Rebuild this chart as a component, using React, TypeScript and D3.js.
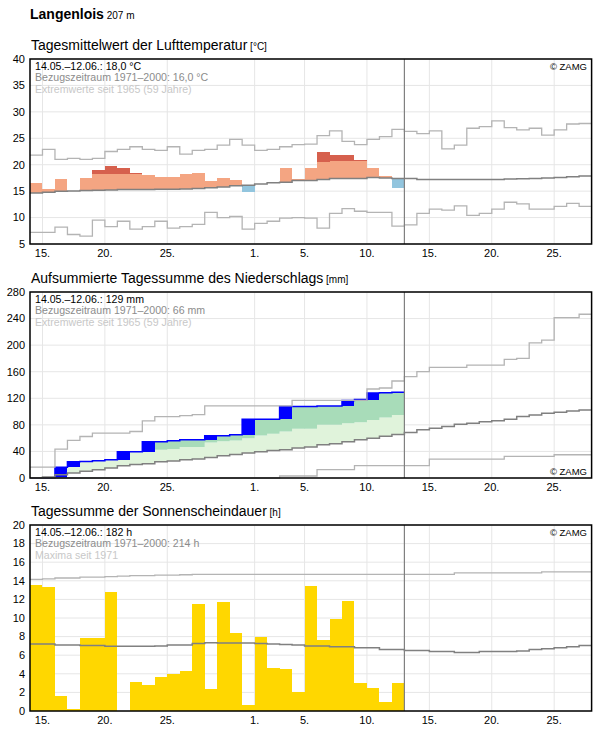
import React from 'react';
import * as d3 from 'd3';

const FONT = '"Liberation Sans", Arial, sans-serif';

// zeitraum
const startDay = new Date(Date.UTC(2023, 4, 14));
const endDay = new Date(Date.UTC(2023, 5, 28));
const todayLine = new Date(Date.UTC(2023, 5, 13));
const tickDays = [[4, 15], [4, 20], [4, 25], [5, 1], [5, 5], [5, 10], [5, 15], [5, 20], [5, 25]];

// Lufttemperatur (14.05. - 12.06.)
const tempObs = [16.6, 15.4, 17.3, 15.1, 17.5, 19.0, 19.8, 19.4, 18.4, 18.1, 17.7, 17.7, 18.3, 18.5, 16.9,
  17.4, 17.1, 14.9, 16.35, 16.7, 19.4, 17.3, 19.4, 22.4, 21.8, 21.8, 20.9, 19.4, 17.9, 15.65];
const tempHigh = [18.3, 18.3, 18.3, 18.3, 18.3, 18.3, 18.3, 18.3, 18.3, 18.4, 18.5, 18.6, 18.7, 18.8, 18.9,
  19.0, 19.1, 19.2, 19.4, 19.5, 19.6, 19.8, 20.0, 20.5, 20.7, 20.7, 20.7, 20.9, 21.0, 21.0];
const tempMean = [14.65, 14.8, 15.0, 15.05, 15.1, 15.15, 15.2, 15.3, 15.3, 15.3, 15.35, 15.35, 15.4, 15.5, 15.65,
  15.8, 16.0, 16.1, 16.35, 16.6, 16.7, 17.0, 17.0, 17.2, 17.4, 17.4, 17.4, 17.6, 17.5, 17.4,
  17.4, 17.2, 17.2, 17.2, 17.2, 17.2, 17.2, 17.2, 17.3, 17.35, 17.4, 17.5, 17.6, 17.7, 17.85];
const tempMax = [21.8, 22.9, 21.0, 21.2, 21.0, 21.2, 22.5, 22.9, 23.4, 22.9, 22.7, 23.4, 22.0, 22.7, 22.9,
  23.7, 24.8, 23.7, 22.7, 22.9, 23.4, 23.8, 23.9, 25.5, 26.4, 24.4, 23.8, 24.8, 25.3, 26.7,
  26.3, 25.9, 26.4, 23.0, 23.7, 26.9, 27.2, 28.3, 27.0, 26.6, 26.9, 25.6, 26.6, 27.7, 27.8];
const tempMin = [7.2, 7.2, 8.2, 6.8, 6.5, 9.5, 8.3, 9.3, 7.8, 8.3, 9.3, 8.0, 8.3, 8.7, 11.0,
  10.0, 10.2, 7.8, 8.9, 9.3, 9.9, 10.0, 9.9, 8.0, 10.8, 11.7, 11.2, 11.0, 11.0, 8.4,
  8.6, 10.8, 11.6, 11.4, 12.2, 10.4, 10.8, 11.6, 12.9, 12.6, 11.6, 11.6, 12.1, 12.7, 12.1];
const tempTicks = [5, 10, 15, 20, 25, 30, 35, 40];

// Niederschlag
const precipDaily = [0, 0, 16, 8.5, 0.5, 1, 1.5, 12, 0, 15, 0, 1.5, 1.5, 0, 6,
  0, 1.5, 23.5, 0, 0, 19, 0, 0, 1, 0, 8, 1.5, 10, 0.5, 0.5];
const precipUpper = [2, 4, 17, 26, 29, 31, 33, 37, 40, 41, 42.5, 43.5, 46.5, 46.5, 53.5,
  55.5, 56.5, 60, 64, 66.5, 70, 74, 74, 80, 80, 82.5, 84, 87.5, 91, 95];
const precipMean = [0.5, 1.5, 5, 7.5, 10, 12.5, 15, 18.5, 20.5, 21.5, 24.5, 25.5, 27.5, 28.5, 31,
  33.5, 35.5, 37.5, 39.5, 41.5, 42.5, 45, 46.5, 50, 51.5, 54.5, 57.5, 60, 63, 65.5,
  68.5, 72.5, 75, 77.5, 81, 82.5, 84.5, 86, 88.5, 92.5, 95, 97.5, 99, 101, 102.5];
const precipMax = [16.5, 16.5, 43.5, 56.5, 62.5, 67.5, 67.5, 67.5, 70, 86, 92.5, 92.5, 94, 95.5, 108.5,
  108.5, 108.5, 108.5, 108.5, 108.5, 108.5, 117, 117, 117, 117, 117, 117, 134, 135.5, 146,
  152.5, 160, 166.5, 166.5, 166.5, 170, 170, 170, 178.5, 180, 203.5, 207.5, 241.5, 241.5, 246.5];
const precipMin = [0, 0, 0, 0, 0, 0, 0, 0, 0, 0, 0, 0, 0, 0, 0,
  0, 0, 0, 0, 0, 3, 3, 3, 12.5, 12.5, 12.5, 18.5, 18.5, 18.5, 18.5,
  18.5, 18.5, 28.5, 28.5, 28.5, 28.5, 28.5, 28.5, 32.5, 32.5, 32.5, 32.5, 35, 35, 35];
const precipTicks = [0, 40, 80, 120, 160, 200, 240, 280];

// Sonnenscheindauer
const sunObs = [13.6, 13.3, 1.6, 0.2, 7.9, 7.9, 12.8, 0, 3.1, 2.8, 3.7, 4.0, 4.3, 11.5, 2.4,
  11.7, 8.4, 0.65, 8.0, 4.6, 4.5, 2.0, 13.4, 7.6, 9.9, 11.8, 3.0, 2.5, 1.0, 3.0];
const sunMean = [7.2, 7.2, 7.1, 7.1, 7.05, 7.05, 6.95, 6.95, 6.95, 6.95, 7.0, 7.1, 7.1, 7.25, 7.35,
  7.3, 7.3, 7.3, 7.25, 7.2, 7.15, 7.1, 7.0, 7.0, 6.9, 6.9, 6.8, 6.8, 6.6, 6.6,
  6.5, 6.5, 6.4, 6.4, 6.3, 6.3, 6.4, 6.4, 6.4, 6.45, 6.6, 6.7, 6.8, 6.9, 7.05];
const sunMax = [14.15, 14.2, 14.3, 14.3, 14.4, 14.4, 14.45, 14.5, 14.55, 14.55, 14.6, 14.6, 14.65, 14.7, 14.7,
  14.7, 14.7, 14.7, 14.7, 14.7, 14.7, 14.7, 14.7, 14.7, 14.7, 14.7, 14.7, 14.7, 14.7, 14.7,
  14.7, 14.7, 14.7, 14.7, 14.85, 14.85, 14.85, 14.85, 14.85, 14.85, 14.85, 14.95, 14.95, 14.95, 14.95];
const sunTicks = [0, 2, 4, 6, 8, 10, 12, 14, 16, 18, 20];

const LEFT = 30;
const RIGHT = 591.6;
const x = d3.scaleUtc().domain([startDay, endDay]).range([LEFT, RIGHT]);
const day = (i: number) => d3.utcDay.offset(startDay, i);

const stepLine = (values: number[], y: d3.ScaleLinear<number, number>) =>
  d3.line<number>()
    .x((_, i) => x(day(i)))
    .y(v => y(v))
    .curve(d3.curveStepAfter)([...values, values[values.length - 1]]) || '';

const Panel = ({ top, bottom, domain, ticks, title, unit, legend, zamgBottom, children }) => {
  const y = d3.scaleLinear().domain(domain).range([bottom, top]);
  return (
    <g>
      <text x={31} y={top - 9} fontSize={14}>{title}<tspan fontSize={10}> {unit}</tspan></text>
      {ticks.map(t => (
        <g key={'y' + t}>
          <line x1={LEFT} x2={RIGHT} y1={y(t)} y2={y(t)} stroke="#e6e6e6" strokeWidth={1} />
          <text x={25} y={y(t)} dy="0.35em" textAnchor="end" fontSize={11}>{t}</text>
        </g>
      ))}
      {tickDays.map(([m, d]) => {
        const dt = new Date(Date.UTC(2023, m, d));
        return (
          <g key={'x' + m + d}>
            <line x1={x(dt)} x2={x(dt)} y1={top} y2={bottom} stroke="#e6e6e6" strokeWidth={1} />
            <text x={x(dt)} y={bottom + 13} textAnchor="middle" fontSize={11}>{d3.utcFormat('%-d.')(dt)}</text>
          </g>
        );
      })}
      {children(y)}
      <line x1={x(todayLine)} x2={x(todayLine)} y1={top} y2={bottom} stroke="#808080" strokeWidth={1.2} />
      <text x={35} y={top + 10.5} fontSize={10.6} fill="#000">{legend[0]}</text>
      <text x={35} y={top + 22} fontSize={10.6} fill="#8c8c8c">{legend[1]}</text>
      <text x={35} y={top + 33.5} fontSize={10.6} fill="#c8c8c8">{legend[2]}</text>
      <text x={587} y={zamgBottom ? bottom - 3 : top + 10.5} textAnchor="end" fontSize={9.5}>© ZAMG</text>
      <rect x={LEFT} y={top} width={RIGHT - LEFT} height={bottom - top} fill="none" stroke="#000" strokeWidth={1.5} />
    </g>
  );
};

const TempMarks = (y) => {
  const w = i => x(day(i + 1)) - x(day(i));
  return (
    <g>
      <path d={stepLine(tempMax, y)} fill="none" stroke="#b4b4b4" strokeWidth={1.3} />
      <path d={stepLine(tempMin, y)} fill="none" stroke="#b4b4b4" strokeWidth={1.3} />
      <g shapeRendering="crispEdges">
        {tempObs.map((v, i) => {
          const m = tempMean[i];
          const h = tempHigh[i];
          if (v >= m) {
            const top = Math.min(v, h);
            return (
              <g key={i}>
                <rect x={x(day(i))} width={w(i)} y={y(top)} height={y(m) - y(top)} fill="#f4a582" />
                {v > h && <rect x={x(day(i))} width={w(i)} y={y(v)} height={y(h) - y(v)} fill="#d6604d" />}
              </g>
            );
          }
          return <rect key={i} x={x(day(i))} width={w(i)} y={y(m)} height={y(v) - y(m)} fill="#92c5de" />;
        })}
      </g>
      <path d={stepLine(tempMean, y)} fill="none" stroke="#808080" strokeWidth={1.5} />
    </g>
  );
};

const PrecipMarks = (y) => {
  const cum = Array.from(d3.cumsum(precipDaily));
  const n = cum.length;
  const idx = d3.range(n + 1);
  const at = (arr, i) => arr[Math.min(i, n - 1)];
  const lightArea = d3.area<number>()
    .x(i => x(day(i)))
    .y0(i => y(at(precipMean, i)))
    .y1(i => y(Math.max(at(precipMean, i), Math.min(at(cum, i), at(precipUpper, i)))))
    .curve(d3.curveStepAfter);
  const darkArea = d3.area<number>()
    .x(i => x(day(i)))
    .y0(i => y(Math.max(at(precipMean, i), at(precipUpper, i))))
    .y1(i => y(Math.max(at(precipMean, i), at(precipUpper, i), at(cum, i))))
    .curve(d3.curveStepAfter);
  return (
    <g>
      <path d={lightArea(idx) || ''} fill="#e0f3db" />
      <path d={darkArea(idx) || ''} fill="#a8dcb9" />
      <g shapeRendering="crispEdges">
        {cum.map((c, i) => {
          const prev = i > 0 ? cum[i - 1] : 0;
          if (c - prev < 2) return null;
          return <rect key={i} x={x(day(i))} width={x(day(i + 1)) - x(day(i))} y={y(c)} height={y(prev) - y(c)} fill="#0000ff" />;
        })}
      </g>
      <path d={stepLine(cum, y)} fill="none" stroke="#0000ff" strokeWidth={1.5} />
      <path d={stepLine(precipMean, y)} fill="none" stroke="#808080" strokeWidth={1.5} />
      <path d={stepLine(precipMax, y)} fill="none" stroke="#b4b4b4" strokeWidth={1.3} />
      <path d={stepLine(precipMin, y)} fill="none" stroke="#b4b4b4" strokeWidth={1.3} />
    </g>
  );
};

const SunMarks = (y) => (
  <g>
    <g shapeRendering="crispEdges">
      {sunObs.map((v, i) => (
        <rect key={i} x={x(day(i))} width={x(day(i + 1)) - x(day(i))} y={y(v)} height={y(0) - y(v)} fill="#ffd700" />
      ))}
    </g>
    <path d={stepLine(sunMax, y)} fill="none" stroke="#b4b4b4" strokeWidth={1.3} />
    <path d={stepLine(sunMean, y)} fill="none" stroke="#808080" strokeWidth={1.5} />
  </g>
);

export default function App() {
  return (
    <svg width={596} height={729} style={{ position: 'absolute', left: 0, top: 0, fontFamily: FONT }}>
      <rect width={596} height={729} fill="#fff" />
      <text x={30} y={18.5} fontSize={14} fontWeight="bold">Langenlois<tspan fontSize={10} fontWeight="normal"> 207 m</tspan></text>
      <Panel top={59} bottom={244} domain={[5, 40]} ticks={tempTicks}
        title="Tagesmittelwert der Lufttemperatur" unit="[°C]"
        legend={['14.05.–12.06.: 18,0 °C', 'Bezugszeitraum 1971–2000: 16,0 °C', 'Extremwerte seit 1965 (59 Jahre)']}
        zamgBottom={false}>
        {TempMarks}
      </Panel>
      <Panel top={292} bottom={478} domain={[0, 280]} ticks={precipTicks}
        title="Aufsummierte Tagessumme des Niederschlags" unit="[mm]"
        legend={['14.05.–12.06.: 129 mm', 'Bezugszeitraum 1971–2000: 66 mm', 'Extremwerte seit 1965 (59 Jahre)']}
        zamgBottom={true}>
        {PrecipMarks}
      </Panel>
      <Panel top={525} bottom={711} domain={[0, 20]} ticks={sunTicks}
        title="Tagessumme der Sonnenscheindauer" unit="[h]"
        legend={['14.05.–12.06.: 182 h', 'Bezugszeitraum 1971–2000: 214 h', 'Maxima seit 1971']}
        zamgBottom={false}>
        {SunMarks}
      </Panel>
    </svg>
  );
}
